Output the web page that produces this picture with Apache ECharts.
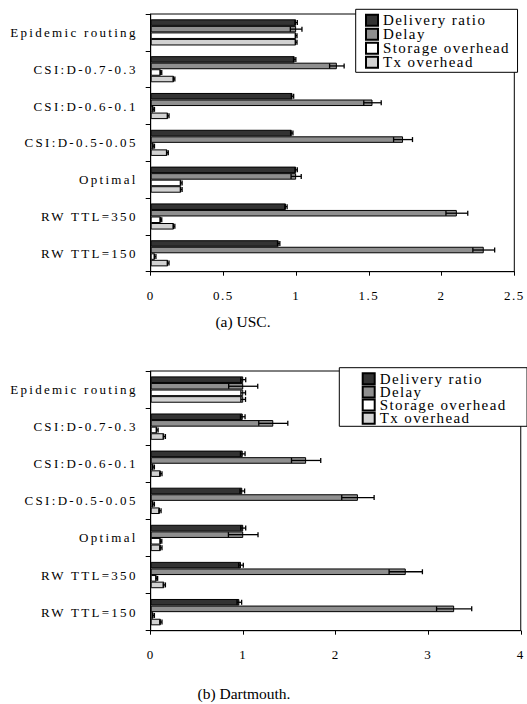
<!DOCTYPE html>
<html>
<head>
<meta charset="utf-8">
<script src="https://cdn.jsdelivr.net/npm/echarts@6/dist/echarts.min.js"></script>
<style>
html,body{margin:0;padding:0;background:#fff;}
#chart{width:527px;height:704px;}
</style>
</head>
<body>
<div id="chart"></div>
<script>
// ---------- data ----------
const categories = ['Epidemic routing','CSI:D-0.7-0.3','CSI:D-0.6-0.1','CSI:D-0.5-0.05','Optimal','RW TTL=350','RW TTL=150'];
const seriesNames = ['Delivery ratio','Delay','Storage overhead','Tx overhead'];

// (a) USC
const uscDelivery    = [1.00, 0.99, 0.975, 0.97, 1.00, 0.93, 0.88];
const uscDeliveryErr = [0.008, 0.008, 0.008, 0.008, 0.008, 0.008, 0.008];
const uscDelay       = [1.00, 1.28, 1.525, 1.735, 1.00, 2.105, 2.29];
const uscDelayErr    = [0.04, 0.05, 0.06, 0.065, 0.035, 0.075, 0.075];
const uscStorage     = [1.00, 0.07, 0.02, 0.02, 0.21, 0.07, 0.03];
const uscStorageErr  = [0.006, 0.006, 0.006, 0.006, 0.006, 0.006, 0.006];
const uscTx          = [1.00, 0.16, 0.12, 0.115, 0.21, 0.16, 0.12];
const uscTxErr       = [0.006, 0.006, 0.006, 0.006, 0.006, 0.006, 0.006];

// (b) Dartmouth
const dartDelivery    = [1.00, 0.995, 0.995, 0.99, 1.00, 0.976, 0.958];
const dartDeliveryErr = [0.027, 0.025, 0.025, 0.025, 0.027, 0.025, 0.025];
const dartDelay       = [1.00, 1.325, 1.68, 2.24, 1.00, 2.757, 3.28];
const dartDelayErr    = [0.157, 0.157, 0.158, 0.175, 0.16, 0.18, 0.19];
const dartStorage     = [1.00, 0.07, 0.03, 0.03, 0.11, 0.065, 0.03];
const dartStorageErr  = [0.025, 0.01, 0.01, 0.01, 0.01, 0.01, 0.01];
const dartTx          = [1.00, 0.147, 0.11, 0.10, 0.11, 0.147, 0.11];
const dartTxErr       = [0.025, 0.012, 0.012, 0.012, 0.012, 0.012, 0.012];

const usxTicks = [0, 0.5, 1, 1.5, 2, 2.5];
const dartTicks = [0, 1, 2, 3, 4];
const captions = ['(a) USC.', '(b) Dartmouth.'];

// ---------- style ----------
const colors = ['#333333', '#8f8f8f', '#ffffff', '#d2d2d2'];
const FONT = '"Liberation Serif", "Times New Roman", serif';
const CAT_GAP = 0.29;

const uscSets = [[uscDelivery, uscDeliveryErr], [uscDelay, uscDelayErr], [uscStorage, uscStorageErr], [uscTx, uscTxErr]];
const dartSets = [[dartDelivery, dartDeliveryErr], [dartDelay, dartDelayErr], [dartStorage, dartStorageErr], [dartTx, dartTxErr]];

function makeErrRender(k) {
  return function (params, api) {
    const cat = api.value(0), v = api.value(1), e = api.value(2);
    const band = api.size([0, 1])[1];
    const total = band * (1 - CAT_GAP);
    const bw = total / 4;
    const off = -total / 2 + (k + 0.5) * bw;
    const p1 = api.coord([v - e, cat]);
    const p2 = api.coord([v + e, cat]);
    const y = p1[1] + off;
    const h = 2.5;
    const st = { stroke: '#000', lineWidth: 1.3 };
    return {
      type: 'group',
      children: [
        { type: 'line', shape: { x1: p1[0], y1: y, x2: p2[0], y2: y }, style: st },
        { type: 'line', shape: { x1: p1[0], y1: y - h, x2: p1[0], y2: y + h }, style: st },
        { type: 'line', shape: { x1: p2[0], y1: y - h, x2: p2[0], y2: y + h }, style: st }
      ]
    };
  };
}

const series = [];
[uscSets, dartSets].forEach((sets, gi) => {
  sets.forEach((s, k) => {
    series.push({
      type: 'bar', name: seriesNames[k], xAxisIndex: gi, yAxisIndex: gi,
      data: s[0], barGap: '0%', barCategoryGap: (CAT_GAP * 100) + '%',
      itemStyle: { color: colors[k], borderColor: '#000', borderWidth: 1 },
      emphasis: { disabled: true }, animation: false
    });
  });
  sets.forEach((s, k) => {
    series.push({
      type: 'custom', name: 'err' + gi + k, xAxisIndex: gi, yAxisIndex: gi,
      data: s[0].map((v, i) => [i, v, s[1][i]]),
      encode: { x: 1, y: 0 },
      renderItem: makeErrRender(k), z: 5, silent: true, animation: false
    });
  });
});

function xAxisCfg(gi, ticks) {
  return {
    type: 'value', gridIndex: gi, min: ticks[0], max: ticks[ticks.length - 1],
    interval: ticks[1] - ticks[0],
    axisLine: { show: true, lineStyle: { color: '#000', width: 1 } },
    axisTick: { show: true, length: 4, lineStyle: { color: '#000' } },
    axisLabel: { color: '#000', fontFamily: FONT, fontSize: 13, margin: 17 },
    splitLine: { show: false }
  };
}
function yAxisCfg(gi) {
  return {
    type: 'category', gridIndex: gi, data: categories, inverse: true,
    axisLine: { show: true, lineStyle: { color: '#000', width: 1 } },
    axisTick: { show: true, length: 5, lineStyle: { color: '#000' } },
    axisLabel: { color: '#000', fontFamily: FONT, fontSize: 13, margin: 13 },
    splitLine: { show: false }
  };
}
function legendCfg(left, top, padding, gap) {
  return {
    orient: 'vertical', left: left, top: top, data: seriesNames,
    icon: 'rect', itemWidth: 12, itemHeight: 11, itemGap: gap,
    padding: padding, backgroundColor: '#fff', borderColor: '#000', borderWidth: 1,
    borderRadius: 0, selectedMode: false,
    textStyle: { color: '#000', fontFamily: FONT, fontSize: 15 }
  };
}

const option = {
  animation: false,
  backgroundColor: '#fff',
  grid: [
    { left: 150.7, top: 14, width: 363.6, height: 257.7, show: true, borderColor: '#000', borderWidth: 1, backgroundColor: 'transparent' },
    { left: 150.7, top: 371, width: 370.3, height: 259.7, show: true, borderColor: '#000', borderWidth: 1, backgroundColor: 'transparent' }
  ],
  xAxis: [xAxisCfg(0, usxTicks), xAxisCfg(1, dartTicks)],
  yAxis: [yAxisCfg(0), yAxisCfg(1)],
  legend: [
    legendCfg(355.7, 9.3, [3.5, 30, 2.5, 9.3], -1),
    legendCfg(339.3, 367.7, [3.5, 42.8, 0.5, 22.4], -1.8)
  ],
  graphic: [
    { type: 'text', x: 243, y: 321, style: { text: captions[0], font: '15.5px "Liberation Serif"', fill: '#000', textAlign: 'center', textVerticalAlign: 'middle' } },
    { type: 'text', x: 244, y: 693, style: { text: captions[1], font: '15.5px "Liberation Serif"', fill: '#000', textAlign: 'center', textVerticalAlign: 'middle' } }
  ],
  series: series
};

const chart = echarts.init(document.getElementById('chart'), null, { renderer: 'svg' });
chart.setOption(option);

// letter-spaced text like the original figure
function spaceText() {
  const texts = document.querySelectorAll('#chart svg text');
  texts.forEach(t => {
    const s = t.textContent;
    if (captions.indexOf(s) >= 0) { t.style.letterSpacing = '0px'; }
    else if (seriesNames.indexOf(s) >= 0) { t.style.letterSpacing = '1.4px'; }
    else if (categories.indexOf(s) >= 0) { t.style.letterSpacing = '2.3px'; }
    else { t.style.letterSpacing = '1.5px'; }
  });
}
chart.on('finished', spaceText);
setTimeout(spaceText, 50);
setTimeout(spaceText, 300);
</script>
</body>
</html>
